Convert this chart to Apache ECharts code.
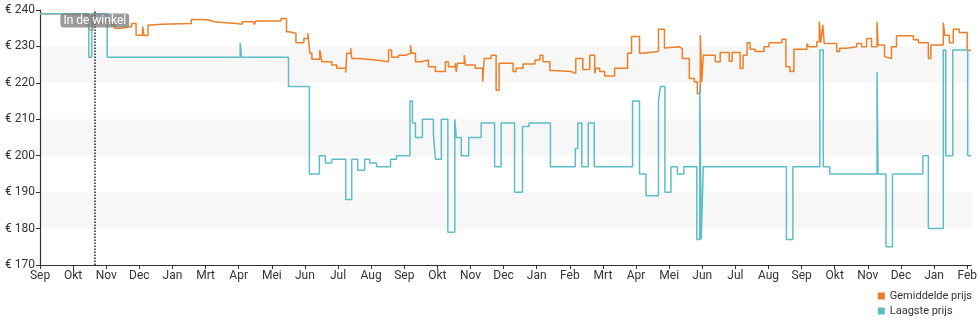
<!DOCTYPE html>
<html>
<head>
<meta charset="utf-8">
<script src="https://cdn.jsdelivr.net/npm/echarts@6/dist/echarts.min.js"></script>
<style>
  html, body { margin: 0; padding: 0; background: #fff; }
  #chart { width: 980px; height: 325px; }
</style>
</head>
<body>
<div id="chart"></div>
<script>
// Month tick labels, one per axis step (x values are measured in these steps)
const monthLabels = ['Sep', 'Okt', 'Nov', 'Dec', 'Jan', 'Mrt', 'Apr', 'Mei', 'Jun', 'Jul', 'Aug',
  'Sep', 'Okt', 'Nov', 'Dec', 'Jan', 'Feb', 'Mrt', 'Apr', 'Mei', 'Jun', 'Jul', 'Aug',
  'Sep', 'Okt', 'Nov', 'Dec', 'Jan', 'Feb'];

const yTicks = [170, 180, 190, 200, 210, 220, 230, 240];

// Average price: [position, euro] at each price change
const avgPrice = [
  [0, 239], [0.842, 238.6], [1.444, 236], [1.504, 234.5], [1.594, 236.5], [2.165, 235.9],
  [2.256, 235], [2.466, 235.5], [2.767, 236.3], [2.902, 233.1], [3.098, 235.5], [3.143, 233],
  [3.263, 235.9], [3.368, 236.1], [3.669, 236.3], [4.571, 237.4], [4.752, 237.3], [5.053, 236.8],
  [5.263, 236.3], [5.925, 236.1], [6.105, 236.8], [6.466, 236], [6.526, 237], [7.278, 237.7],
  [7.444, 234], [7.519, 233.6], [7.729, 231], [7.970, 232.2], [8.090, 233.6], [8.150, 228.1],
  [8.211, 226.5], [8.451, 229], [8.511, 225.8], [8.812, 224.9], [8.962, 224], [9.233, 222.8],
  [9.263, 228.1], [9.383, 229.5], [9.414, 226.7], [9.624, 226.3], [10.135, 225.8], [10.526, 229],
  [10.617, 227], [10.827, 227.6], [11.038, 228.1], [11.188, 230.4], [11.218, 228.1], [11.338, 225.8],
  [11.519, 226.3], [11.729, 224.4], [11.940, 223.1], [12.241, 225.8], [12.331, 224.4], [12.541, 225.4],
  [12.571, 223], [12.602, 225.4], [12.812, 227.6], [12.842, 224.9], [13.143, 224], [13.368, 220.3],
  [13.414, 226.7], [13.624, 227.6], [13.774, 218], [13.865, 225.4], [14.286, 223.1], [14.376, 224],
  [14.586, 225.2], [14.947, 226.3], [15.098, 227.6], [15.188, 225.8], [15.398, 223.4], [15.489, 223.1],
  [16.030, 222.6], [16.180, 226.7], [16.391, 223.7], [16.602, 227.6], [16.752, 222.6], [16.782, 224],
  [16.902, 223.1], [17.053, 221.9], [17.353, 224], [17.744, 228.1], [17.865, 232.7], [18.105, 228.1],
  [18.195, 228.6], [18.677, 234.7], [18.857, 229.6], [18.887, 229.9], [19.308, 229.4], [19.398, 226.7],
  [19.609, 221.2], [19.759, 220.3], [19.850, 217.1], [19.940, 233.1], [19.985, 220.3], [20.030, 227.6],
  [20.391, 225.8], [20.541, 228.3], [20.812, 225.9], [20.902, 228.3], [21.143, 224], [21.233, 227.6],
  [21.353, 231], [21.444, 229.2], [21.594, 228.6], [21.865, 229.9], [22.015, 231], [22.406, 232],
  [22.526, 224.4], [22.647, 223.1], [22.767, 229.2], [23.158, 230.8], [23.218, 229.9], [23.459, 231.3],
  [23.534, 236.8], [23.579, 231], [23.639, 235.9], [23.684, 230.8], [24.060, 228.6], [24.150, 229.5],
  [24.361, 229.9], [24.662, 230.8], [24.812, 229.9], [24.962, 232.2], [25.113, 229.9], [25.278, 236.8],
  [25.308, 230.4], [25.504, 227.2], [25.564, 226.7], [25.714, 229.9], [25.865, 232.9], [26.376, 231.8],
  [26.526, 231], [26.827, 226.7], [26.902, 230.4], [27.278, 236.5], [27.323, 233.1], [27.459, 231],
  [27.579, 234.7], [27.759, 233.8], [28.000, 229], [28.060, 228.9], [28.12, 228.9]
];

// Lowest price: [position, euro] at each price change
const lowPrice = [
  [0, 239], [1.474, 227], [1.564, 239], [2.030, 227], [6.045, 231], [6.090, 227], [7.504, 219],
  [8.135, 195], [8.436, 200], [8.617, 198], [8.812, 199], [9.233, 188], [9.414, 199], [9.594, 196],
  [9.805, 199], [9.955, 198], [10.165, 197], [10.586, 199], [10.767, 200], [11.173, 215], [11.248, 209],
  [11.338, 205], [11.549, 210], [11.880, 206], [11.940, 199], [12.120, 210], [12.316, 179], [12.526, 210],
  [12.571, 205], [12.722, 200], [12.947, 205], [13.323, 209], [13.729, 197], [13.925, 209], [14.331, 190],
  [14.571, 208], [14.767, 209], [15.414, 197], [16.165, 202], [16.241, 209], [16.361, 197], [16.556, 209],
  [16.737, 197], [17.895, 215], [18.105, 195], [18.301, 189], [18.677, 215], [18.737, 219], [18.872, 190],
  [19.053, 197], [19.248, 195], [19.444, 197], [19.835, 177], [19.925, 219], [19.970, 177], [20.030, 197],
  [22.541, 177], [22.737, 197], [23.549, 229], [23.654, 197], [23.850, 195], [25.278, 223], [25.308, 195],
  [25.549, 175], [25.744, 195], [26.662, 200], [26.827, 180], [27.278, 229], [27.353, 200], [27.564, 229],
  [28.015, 200], [28.12, 200]
];

// Day the product arrived in the shop
const storeDate = 1.654;
const storeLabel = 'In de winkel';

const FONT = 'Roboto, "Noto Sans", sans-serif';
const chart = echarts.init(document.getElementById('chart'), null, { renderer: 'canvas' });

chart.setOption({
  animation: false,
  textStyle: { fontFamily: FONT },
  grid: { left: 40, right: 5, top: 10, bottom: 60, containLabel: false },
  legend: {
    orient: 'vertical',
    right: 8,
    top: 290,
    padding: 0,
    itemWidth: 7,
    itemHeight: 7,
    itemGap: 3,
    icon: 'rect',
    textStyle: { fontSize: 11, color: '#333', fontFamily: FONT, lineHeight: 12 },
    data: ['Gemiddelde prijs', 'Laagste prijs']
  },
  xAxis: {
    type: 'value',
    min: 0,
    max: 28.12,
    interval: 1,
    axisLine: { lineStyle: { color: '#333', width: 1.2 } },
    axisTick: {
      length: 4,
      lineStyle: { color: '#333' },
      customValues: monthLabels.map((_, i) => i)
    },
    axisLabel: {
      margin: 5,
      fontSize: 12,
      color: '#333',
      customValues: monthLabels.map((_, i) => i),
      formatter: v => monthLabels[Math.round(v)] || ''
    },
    splitLine: { show: false }
  },
  yAxis: {
    type: 'value',
    min: yTicks[0],
    max: yTicks[yTicks.length - 1],
    interval: 10,
    axisLine: { show: true, lineStyle: { color: '#333', width: 1.2 } },
    axisTick: { show: true, length: 4, lineStyle: { color: '#333' } },
    axisLabel: {
      margin: 5,
      fontSize: 12,
      color: '#333',
      formatter: v => '€ ' + v
    },
    splitLine: { show: false },
    splitArea: { show: true, areaStyle: { color: ['rgba(255,255,255,0)', '#f7f7f7'] } }
  },
  series: [
    {
      name: 'Gemiddelde prijs',
      type: 'line',
      step: 'end',
      showSymbol: false,
      color: '#ef7f27',
      lineStyle: { width: 1.5, color: '#ef7f27' },
      data: avgPrice,
      z: 2
    },
    {
      name: 'Laagste prijs',
      type: 'line',
      step: 'end',
      showSymbol: false,
      color: '#5dbec8',
      lineStyle: { width: 1.5, color: '#5dbec8' },
      data: lowPrice,
      z: 3,
      markLine: {
        silent: true,
        symbol: ['none', 'none'],
        label: { show: false },
        lineStyle: { color: '#222', type: 'dotted', width: 1.5 },
        data: [{ xAxis: storeDate }]
      },
      markPoint: {
        silent: true,
        symbol: 'rect',
        symbolSize: 1,
        itemStyle: { color: 'rgba(0,0,0,0)' },
        label: {
          show: true,
          position: 'inside',
          formatter: storeLabel,
          color: '#fff',
          fontSize: 12,
          fontFamily: FONT,
          backgroundColor: 'rgba(120,120,120,0.75)',
          borderRadius: 3,
          padding: [1, 3, 0, 3],
          lineHeight: 13
        },
        data: [{ coord: [storeDate, 237.1] }]
      }
    }
  ]
});
</script>
</body>
</html>
